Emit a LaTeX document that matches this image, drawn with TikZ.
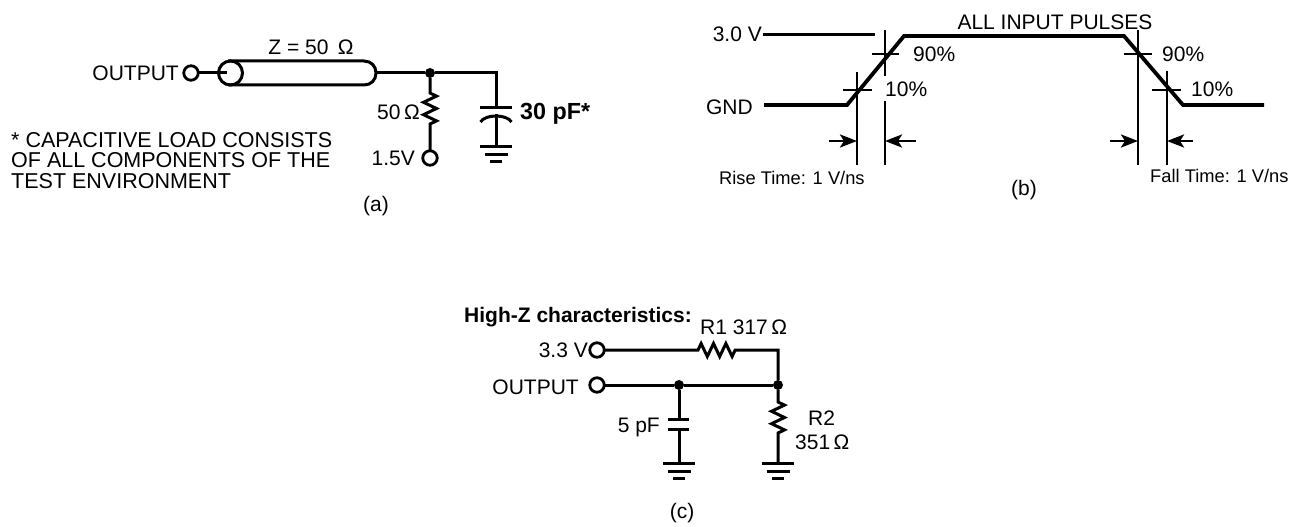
\documentclass[tikz,border=0pt]{standalone}
\usepackage{fontspec}
\setmainfont{Liberation Sans}
\usetikzlibrary{arrows.meta,decorations.pathmorphing}
\tikzset{
  x=1pt,y=-1pt,
  wire/.style={line width=3pt,black,line cap=butt},
  thin wire/.style={line width=2.8pt,black},
  pulse/.style={line width=3.8pt,black,line join=miter},
  term/.style={circle,draw=black,line width=2.8pt,fill=white,inner sep=0pt,minimum size=14.5pt,outer sep=0pt},
  junc/.style={circle,fill=black,inner sep=0pt,minimum size=10pt},
  txt/.style={inner sep=0pt,font=\fontsize{21}{20.7}\selectfont},
  note/.style={inner sep=0pt,font=\fontsize{21.5}{20.7}\selectfont},
  small/.style={inner sep=0pt,font=\fontsize{18.3}{19}\selectfont},
  bold/.style={inner sep=0pt,font=\bfseries\fontsize{21}{20}\selectfont},
  boldlarge/.style={inner sep=0pt,font=\bfseries\fontsize{23.3}{24}\selectfont},
  zig/.style={decorate,decoration={zigzag,segment length=12.4pt,amplitude=6.5pt}},
  tip/.style={-{Stealth[length=17pt,width=13pt,inset=4pt]},line width=2.8pt},
  gndbars/.pic={
    \draw[wire] (-16,0)--(16,0);
    \draw[wire] (-11.5,8)--(11.5,8);
    \draw[wire] (-6,15)--(6,15);
  }
}
\begin{document}
\begin{tikzpicture}
\useasboundingbox (0,0) rectangle (1296,527);
% (a)
\node[txt,anchor=east] (aout) at (179,73) {OUTPUT};
\node[term] (aterm) at (191,73) {};
\node[circle,draw=black,line width=3pt,inner sep=0pt,minimum size=24pt] (cab) at (230.5,73) {};
\coordinate (cin) at (227,73);
\draw[wire] (aterm) -- (cin);
\coordinate (ct1) at (228,61);
\coordinate (ct2) at (364,61);
\coordinate (cb1) at (228,85);
\coordinate (cb2) at (364,85);
\coordinate (ce) at (376,73);
\draw[wire] (ct1) -- (ct2) .. controls (371,61) and (376,66) .. (ce) .. controls (376,80) and (371,85) .. (cb2) -- (cb1);
\node[txt] (zlab) at (311,47) {Z = 50 \,Ω};
\node[junc] (aj) at (430,73) {};
\coordinate (acorner) at (496,73);
\coordinate (ap1) at (496,107);
\coordinate (ap2) at (496,114);
\coordinate (ag) at (496,146);
\draw[wire] (ce) -- (aj) -- (acorner) -- (ap1);
\draw[wire] (480,107) -- (512,107);
\draw[wire] (480.5,122) .. controls (485,114) and (507,114) .. (511.5,122);
\draw[wire] (ap2) -- (ag);
\pic at (ag) {gndbars};
\node[term] (a15) at (430,158) {};
\coordinate (ar1) at (430,93);
\coordinate (ar2) at (430,130);
\draw[wire] (aj) -- (ar1) decorate[zig]{-- (ar2)} -- (a15);
\node[txt,anchor=east] (a50) at (420,112) {50\,Ω};
\node[txt,anchor=east] (a15l) at (415,158) {1.5V};
\node[boldlarge,anchor=west] (a30) at (520,114) {30 pF*};
\node[note,anchor=north west,align=left] (anote) at (11,132) {* CAPACITIVE LOAD CONSISTS\\OF ALL COMPONENTS OF THE\\TEST ENVIRONMENT};
\node[txt] (acap) at (376,206) {(a)};
% (b)
\node[txt,anchor=east] (b3) at (762,34) {3.0 V};
\node[txt,anchor=east] (bg) at (753,107) {GND};
\coordinate (b3a) at (763,34.5);
\coordinate (b3b) at (875,34.5);
\draw[wire] (b3a) -- (b3b);
\coordinate (w1) at (764,105);
\coordinate (w2) at (847,105);
\coordinate (w3) at (904,36);
\coordinate (w4) at (1124,36);
\coordinate (w5) at (1183,105);
\coordinate (w6) at (1264,105);
\draw[pulse] (w1) -- (w2) -- (w3) -- (w4) -- (w5) -- (w6);
\coordinate (v1a) at (857,72);
\coordinate (v1b) at (857,165);
\coordinate (v2a) at (885,30);
\coordinate (v2b) at (885,76);
\coordinate (v2c) at (885,101);
\coordinate (v2d) at (885,165);
\coordinate (v3a) at (1138,30);
\coordinate (v3b) at (1138,165);
\coordinate (v4a) at (1167,71);
\coordinate (v4b) at (1167,165);
\draw[thin wire] (v1a) -- (v1b);
\draw[thin wire] (v2a) -- (v2b);
\draw[thin wire] (v2c) -- (v2d);
\draw[thin wire] (v3a) -- (v3b);
\draw[thin wire] (v4a) -- (v4b);
\draw[thin wire] (872,54) -- (899,54);
\draw[thin wire] (1124,54) -- (1152,54);
\draw[thin wire] (843,90) -- (872,90);
\draw[thin wire] (1152,90) -- (1181,90);
\coordinate (t1) at (829,141);
\coordinate (t1e) at (857,141);
\coordinate (t2) at (916,141);
\coordinate (t2e) at (885,141);
\coordinate (t3) at (1110,141);
\coordinate (t3e) at (1138,141);
\coordinate (t4) at (1193,141);
\coordinate (t4e) at (1167,141);
\draw[tip] (t1) -- (t1e);
\draw[tip] (t2) -- (t2e);
\draw[tip] (t3) -- (t3e);
\draw[tip] (t4) -- (t4e);
\node[txt] (ball) at (1055,22) {ALL INPUT PULSES};
\node[txt,anchor=west] (p90a) at (913,54) {90\%};
\node[txt,anchor=west] (p10a) at (885,89) {10\%};
\node[txt,anchor=west] (p90b) at (1162,54) {90\%};
\node[txt,anchor=west] (p10b) at (1191,89) {10\%};
\node[small,anchor=west] (rise) at (719,178) {Rise Time: 1 V/ns};
\node[small,anchor=west] (fall) at (1150,176) {Fall Time: 1 V/ns};
\node[txt] (bcap) at (1024,190) {(b)};
% (c)
\node[bold,anchor=east] (chz) at (692,317) {High-Z characteristics:};
\node[txt,anchor=west] (cr1) at (700,327) {R1 317\,Ω};
\node[txt,anchor=east] (c33) at (588,350) {3.3 V};
\node[term] (cterm1) at (597,350) {};
\node[txt,anchor=east] (cout) at (579,387) {OUTPUT};
\node[term] (cterm2) at (597,385) {};
\node[junc] (cj1) at (679,385) {};
\node[junc] (cj2) at (778,385) {};
\coordinate (cr1a) at (698,350);
\coordinate (cr1b) at (737,350);
\coordinate (ccorner) at (778,350);
\draw[wire] (cterm1) -- (cr1a) decorate[zig]{-- (cr1b)} -- (ccorner) -- (cj2);
\draw[wire] (cterm2) -- (cj1) -- (cj2);
\coordinate (cp1) at (679,419);
\coordinate (cp2) at (679,429);
\coordinate (cg1) at (679,463);
\draw[wire] (cj1) -- (cp1);
\draw[wire] (668,419) -- (689,419);
\draw[wire] (668,429) -- (689,429);
\draw[wire] (cp2) -- (cg1);
\pic at (cg1) {gndbars};
\coordinate (cr2a) at (778,402);
\coordinate (cr2b) at (778,438);
\coordinate (cg2) at (778,463);
\draw[wire] (cj2) -- (cr2a) decorate[zig]{-- (cr2b)} -- (cg2);
\pic at (cg2) {gndbars};
\node[txt,anchor=east] (c5) at (660,427) {5 pF};
\node[txt,anchor=west] (cr2l) at (808,418) {R2};
\node[txt,anchor=west] (cr2v) at (795,442) {351\,Ω};
\node[txt] (ccap) at (682,513) {(c)};
\end{tikzpicture}
\end{document}
